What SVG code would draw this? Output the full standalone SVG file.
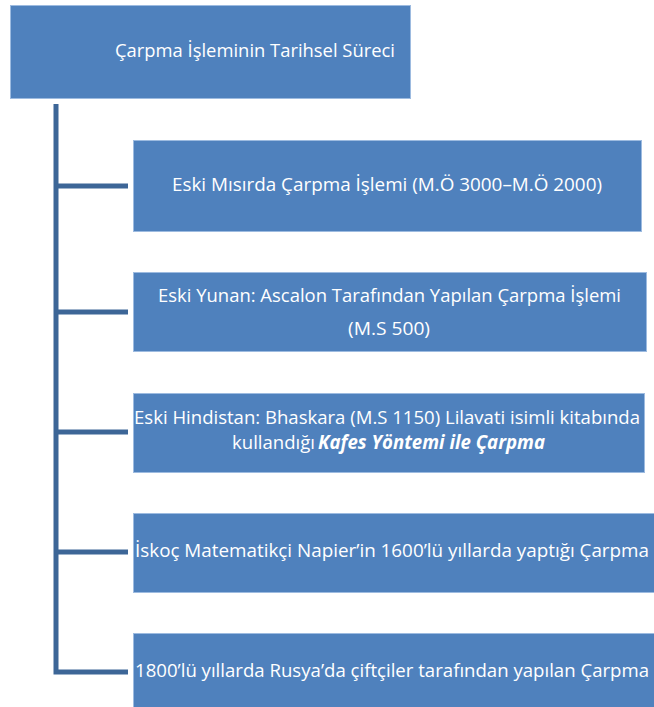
<svg xmlns="http://www.w3.org/2000/svg" width="654" height="707" viewBox="0 0 654 707">
<style>
.box{fill:#4F81BD;stroke:#9DBBE0;stroke-width:1}
.t{font-family:"Open Sans","Liberation Sans",sans-serif;font-size:19px;fill:#FFFFFF}
.s{font-size:18px}
.bi{font-weight:bold;font-style:italic}
.c{fill:none;stroke:#3D6697;stroke-width:5;stroke-linejoin:miter}
</style>
<rect width="654" height="707" fill="#FFFFFF"/>
<g id="connectors">
<path class="c" d="M56,104 V672 H128"/>
<path class="c" d="M56,186 H128"/>
<path class="c" d="M56,312 H128"/>
<path class="c" d="M56,432 H128"/>
<path class="c" d="M56,552 H128"/>
</g>
<g id="root">
<rect class="box" x="10.5" y="5.5" width="400" height="93"/>
<text class="t" x="115" y="57" textLength="280" lengthAdjust="spacingAndGlyphs">Çarpma İşleminin Tarihsel Süreci</text>
</g>
<g id="n1">
<rect class="box" x="133.5" y="140.5" width="508" height="91"/>
<text class="t" x="172" y="191" textLength="430" lengthAdjust="spacingAndGlyphs">Eski Mısırda Çarpma İşlemi (M.Ö 3000–M.Ö 2000)</text>
</g>
<g id="n2">
<rect class="box" x="133.5" y="272.5" width="513" height="79"/>
<text class="t" x="158" y="302" textLength="463" lengthAdjust="spacingAndGlyphs">Eski Yunan: Ascalon Tarafından Yapılan Çarpma İşlemi</text>
<text class="t" x="348" y="335" textLength="82" lengthAdjust="spacingAndGlyphs">(M.S 500)</text>
</g>
<g id="n3">
<rect class="box" x="133.5" y="393.5" width="511" height="79"/>
<text class="t" x="134" y="424" textLength="506" lengthAdjust="spacingAndGlyphs">Eski Hindistan: Bhaskara (M.S 1150) Lilavati isimli kitabında</text>
<text class="t" x="232" y="449" textLength="83" lengthAdjust="spacingAndGlyphs">kullandığı</text>
<text class="t bi" x="318" y="449" textLength="227" lengthAdjust="spacingAndGlyphs">Kafes Yöntemi ile Çarpma</text>
</g>
<g id="n4">
<rect class="box" x="133.5" y="513.5" width="521" height="79"/>
<text class="t" x="135" y="557" textLength="514" lengthAdjust="spacingAndGlyphs">İskoç Matematikçi Napier’in 1600’lü yıllarda yaptığı Çarpma</text>
</g>
<g id="n5">
<rect class="box" x="133.5" y="633.5" width="521" height="74"/>
<text class="t s" x="135" y="677" textLength="514" lengthAdjust="spacingAndGlyphs">1800’lü yıllarda Rusya’da çiftçiler tarafından yapılan Çarpma</text>
</g>
</svg>
